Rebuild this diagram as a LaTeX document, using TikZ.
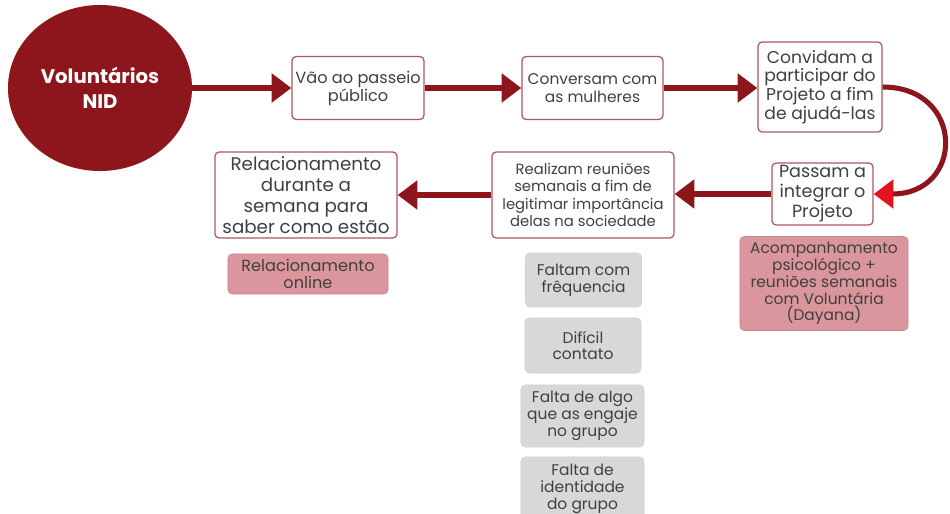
\documentclass[tikz,border=0pt]{standalone}
\usepackage{fontspec}
\setmainfont{Poppins}
\usetikzlibrary{arrows.meta, shapes.geometric}
\definecolor{nidred}{RGB}{140,22,28}
\definecolor{tipred}{RGB}{228,20,28}
\definecolor{edgepink}{RGB}{176,86,96}
\definecolor{notepink}{RGB}{218,150,156}
\definecolor{issuegray}{RGB}{216,216,219}
\definecolor{inkgray}{RGB}{64,64,64}
\tikzset{
    flowbox/.style={draw=edgepink, line width=0.9pt, rounded corners=3pt, fill=white, text=inkgray, align=center, inner sep=1pt}, % white steps of the flow
    notebox/.style={fill=notepink, draw=notepink!90!black, line width=0.4pt, rounded corners=3pt, text=black!75, align=center, inner sep=1pt}, % pink notes
    issuebox/.style={fill=issuegray, draw=black!18, line width=0.4pt, rounded corners=3pt, text=inkgray, align=center, inner sep=1pt}, % gray problems
    flowarrow/.style={draw=nidred, line width=3.6pt, -{Triangle[length=14pt, width=20pt]}}, % thick red connectors
}
\begin{document}
\begin{tikzpicture}[x=0.025cm, y=-0.025cm]
    \useasboundingbox (0,0) rectangle (950,514);
    \node[ellipse, fill=nidred, minimum width=4.6cm, minimum height=4.15cm, text=white, align=center, font=\fontsize{14}{18}\selectfont\bfseries] (vol) at (100,88) {Voluntários\\NID};
    \node[flowbox, minimum width=3.3cm, minimum height=1.575cm, font=\fontsize{11.5}{12.8}\selectfont] (passeio) at (358,88) {Vão ao passeio\\público};
    \node[flowbox, minimum width=3.525cm, minimum height=1.575cm, font=\fontsize{11}{12.6}\selectfont] (conversam) at (592.5,88) {Conversam com\\as mulheres};
    \node[flowbox, minimum width=3.1cm, minimum height=2.25cm, font=\fontsize{12.2}{13.3}\selectfont] (convidam) at (820,87) {Convidam a\\participar do\\Projeto a fim\\de ajudá-las};
    \node[flowbox, minimum width=2.525cm, minimum height=1.55cm, font=\fontsize{12.5}{14.3}\selectfont] (passam) at (822.5,194) {Passam a\\integrar o\\Projeto};
    \node[flowbox, minimum width=4.55cm, minimum height=2.15cm, font=\fontsize{10.5}{12.4}\selectfont] (reunioes) at (583,195) {Realizam reuniões\\semanais a fim de\\legitimar importância\\delas na sociedade};
    \node[flowbox, minimum width=4.55cm, minimum height=2.15cm, font=\fontsize{13}{15}\selectfont] (semana) at (306,195) {Relacionamento\\durante a\\semana para\\saber como estão};
    \node[notebox, minimum width=4cm, minimum height=1cm, font=\fontsize{11.5}{12}\selectfont] (online) at (308,274) {Relacionamento\\online};
    \node[notebox, minimum width=4.2cm, minimum height=2.35cm, font=\fontsize{11}{12}\selectfont] (acomp) at (824,283.5) {Acompanhamento\\psicológico +\\reuniões semanais\\com Voluntária\\(Dayana)};
    \node[issuebox, minimum width=2.9cm, minimum height=1.35cm, font=\fontsize{11}{12}\selectfont] (faltam) at (583.5,280) {Faltam com\\frêquencia};
    \node[issuebox, minimum width=2.9cm, minimum height=1.375cm, font=\fontsize{11}{12}\selectfont] (dificil) at (583,345.5) {Difícil\\contato};
    \node[issuebox, minimum width=3.075cm, minimum height=1.55cm, font=\fontsize{11}{12}\selectfont] (engaje) at (582.5,416) {Falta de algo\\que as engaje\\no grupo};
    \node[issuebox, minimum width=3.075cm, minimum height=1.6cm, font=\fontsize{11}{12}\selectfont] (identidade) at (582.5,489) {Falta de\\identidade\\do grupo};
    \draw[flowarrow] (vol.east) -- (passeio.west);
    \draw[flowarrow] (passeio.east) -- (conversam.west);
    \draw[flowarrow] (conversam.east) -- (convidam.west |- conversam.east);
    \draw[draw=nidred, line width=3.6pt, -{Triangle[length=14pt, width=20pt, color=tipred]}] (convidam.east) .. controls (965,87) and (965,194) .. (passam.east);
    \draw[flowarrow] (passam.west) -- (reunioes.east |- passam.west);
    \draw[flowarrow] (reunioes.west) -- (semana.east);
\end{tikzpicture}
\end{document}
